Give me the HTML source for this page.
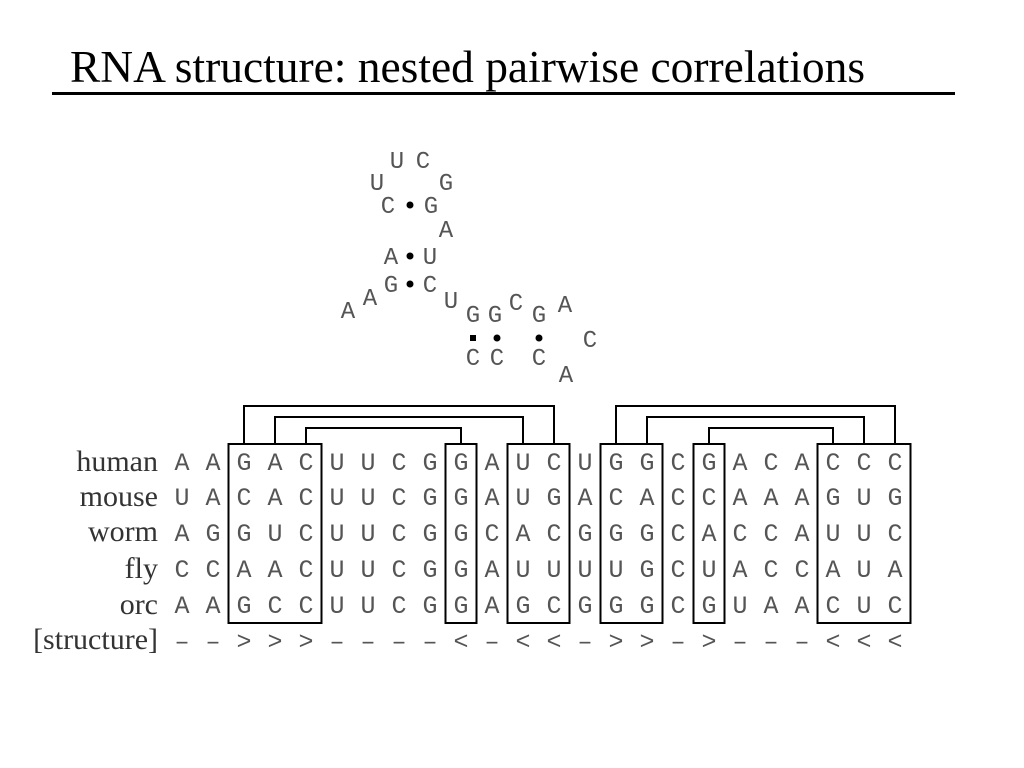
<!DOCTYPE html>
<html><head><meta charset="utf-8"><style>
html,body{margin:0;padding:0;background:#fff;}
svg{display:block;}
.seq{font-family:"Liberation Mono",monospace;font-size:25px;fill:#555;text-anchor:middle;}
.lab{font-family:"Liberation Serif",serif;font-size:30px;fill:#333;text-anchor:end;}
.ss{font-family:"Liberation Mono",monospace;font-size:24px;fill:#555;text-anchor:middle;}
</style></head><body>
<svg width="1024" height="768" viewBox="0 0 1024 768" xmlns="http://www.w3.org/2000/svg">
<text x="70" y="82" font-family="Liberation Serif, serif" font-size="45" fill="#000" textLength="795" lengthAdjust="spacingAndGlyphs">RNA structure: nested pairwise correlations</text>
<rect x="52" y="92" width="903" height="3" fill="#000"/>

<g class="ss">
<text x="397" y="168">U</text><text x="423" y="168">C</text>
<text x="377" y="190">U</text><text x="446" y="190">G</text>
<text x="388" y="213">C</text><text x="431" y="213">G</text>
<text x="446" y="237">A</text>
<text x="391" y="264">A</text><text x="430" y="264">U</text>
<text x="391" y="292">G</text><text x="430" y="292">C</text>
<text x="370" y="305">A</text><text x="348" y="318">A</text>
<text x="451" y="308">U</text>
<text x="473" y="322">G</text><text x="495" y="322">G</text>
<text x="516" y="310">C</text><text x="539" y="322">G</text>
<text x="565" y="312">A</text><text x="590" y="347">C</text>
<text x="473" y="365">C</text><text x="497" y="365">C</text><text x="539" y="365">C</text>
<text x="566" y="382">A</text>
</g>
<g fill="#000">
<circle cx="410" cy="205" r="3.5"/><circle cx="410" cy="256" r="3.5"/><circle cx="410" cy="284" r="3.5"/>
<rect x="470" y="335" width="6" height="6"/><circle cx="497" cy="338" r="3.5"/><circle cx="539" cy="338" r="3.5"/>
</g>

<g fill="none" stroke="#000" stroke-width="2">
<polyline points="244,444 244,406 554,406 554,444"/>
<polyline points="275,444 275,417 523,417 523,444"/>
<polyline points="306,444 306,428 461,428 461,444"/>
<polyline points="616,444 616,406 895,406 895,444"/>
<polyline points="647,444 647,417 864,417 864,444"/>
<polyline points="709,444 709,428 833,428 833,444"/>
<rect x="228.5" y="444" width="93" height="179"/>
<rect x="445.5" y="444" width="31" height="179"/>
<rect x="507.5" y="444" width="62" height="179"/>
<rect x="600.5" y="444" width="62" height="179"/>
<rect x="693.5" y="444" width="31" height="179"/>
<rect x="817.5" y="444" width="93" height="179"/>
</g>

<g class="lab">
<text x="158" y="471">human</text>
<text x="158" y="506">mouse</text>
<text x="158" y="541">worm</text>
<text x="158" y="578">fly</text>
<text x="158" y="614">orc</text>
<text x="158" y="649">[structure]</text>
</g>
<g class="seq">
<text y="470" x="182 213 244 275 306 337 368 399 430 461 492 523 554 585 616 647 678 709 740 771 802 833 864 895">AAGACUUCGGAUCUGGCGACACCC</text>
<text y="505" x="182 213 244 275 306 337 368 399 430 461 492 523 554 585 616 647 678 709 740 771 802 833 864 895">UACACUUCGGAUGACACCAAAGUG</text>
<text y="541" x="182 213 244 275 306 337 368 399 430 461 492 523 554 585 616 647 678 709 740 771 802 833 864 895">AGGUCUUCGGCACGGGCACCAUUC</text>
<text y="577" x="182 213 244 275 306 337 368 399 430 461 492 523 554 585 616 647 678 709 740 771 802 833 864 895">CCAACUUCGGAUUUUGCUACCAUA</text>
<text y="613" x="182 213 244 275 306 337 368 399 430 461 492 523 554 585 616 647 678 709 740 771 802 833 864 895">AAGCCUUCGGAGCGGGCGUAACUC</text>
<text y="649" x="182 213 244 275 306 337 368 399 430 461 492 523 554 585 616 647 678 709 740 771 802 833 864 895">––&gt;&gt;&gt;––––&lt;–&lt;&lt;–&gt;&gt;–&gt;–––&lt;&lt;&lt;</text>
</g>
</svg>
</body></html>
